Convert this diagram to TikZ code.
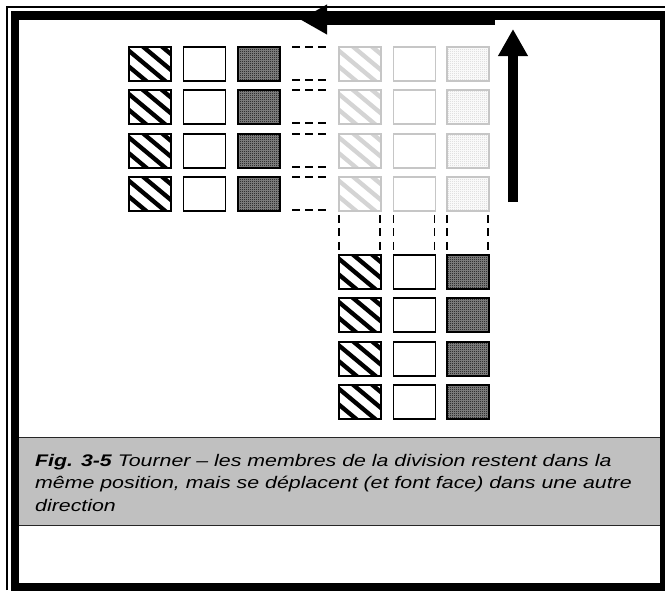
\documentclass[tikz,border=0pt]{standalone}
\usepackage{fontspec}
\setmainfont{Liberation Sans}
\usepackage{graphicx}
\usetikzlibrary{patterns,arrows.meta}
\pgfdeclarepatternformonly{finecheck}{\pgfpointorigin}{\pgfpoint{2pt}{2pt}}{\pgfpoint{2pt}{2pt}}{%
  \pgfpathrectangle{\pgfpointorigin}{\pgfpoint{1pt}{1pt}}%
  \pgfpathrectangle{\pgfpoint{1pt}{1pt}}{\pgfpoint{1pt}{1pt}}%
  \pgfusepath{fill}}
\definecolor{capgray}{HTML}{C0C0C0}
\definecolor{lightedge}{HTML}{C6C6C6}
\definecolor{lightstripe}{HTML}{D4D4D4}
\definecolor{lightcheck}{HTML}{D0D0D0}
\newcommand{\capfont}{\fontsize{16.8pt}{22.5pt}\selectfont\itshape}
\begin{document}
\begin{tikzpicture}[x=1pt,y=-1pt,
  box/.style={draw=#1, line width=1.8pt, minimum width=42pt, minimum height=34pt,
              inner sep=0pt, outer sep=0pt, anchor=north west, fill=white},
  box/.default=black,
  hatchbox/.style={box=#1, path picture={
      \foreach \c in {-95,-76,...,76}
        \draw[line width=4.3pt, #1] ([xshift=\c pt, yshift=12pt]path picture bounding box.north west) -- ++(96,80);}},
  checkbox/.style 2 args={box=#1, fill=#2, path picture={
      \fill[pattern=finecheck, pattern color=#1] (path picture bounding box.south west) rectangle (path picture bounding box.north east);}},
  hdash/.style={line width=1.8pt, dash pattern=on 8pt off 5pt},
  vdash/.style={line width=1.8pt, dash pattern=on 8pt off 5.5pt},
  bigarrow/.style={line width=#1, -{Triangle[length=27pt,width=28pt]}},
  capline/.style={draw=black!85, line width=1.3pt}
]
\useasboundingbox (0,0) rectangle (665,590);

% frame
\draw[line width=1.4pt] (7,590) -- (7,7) -- (665,7);
\draw[line width=8.5pt] (15,15.5) rectangle (664.5,587);

% left (original) group
\foreach \r in {0,1,2,3} {
  \node[hatchbox=black] (La\r) at (129,{47+43.33*\r}) {};
  \node[box] (Lb\r) at (183.5,{47+43.33*\r}) {};
  \node[checkbox={black}{black!45}] (Lc\r) at (238,{47+43.33*\r}) {};
}
% faded group
\foreach \r in {0,1,2,3} {
  \node[hatchbox=lightstripe, draw=lightedge] (Ga\r) at (339,{47+43.33*\r}) {};
  \node[box=lightedge] (Gb\r) at (393.5,{47+43.33*\r}) {};
  \node[checkbox={lightcheck}{white}, draw=lightedge] (Gc\r) at (447,{47+43.33*\r}) {};
}
% new position group
\foreach \r in {0,1,2,3} {
  \node[hatchbox=black] (Ba\r) at (339,{255+43.33*\r}) {};
  \node[box] (Bb\r) at (393.5,{255+43.33*\r}) {};
  \node[checkbox={black}{black!45}] (Bc\r) at (447,{255+43.33*\r}) {};
}

% horizontal dashed guides
\foreach \r in {0,1,2,3} {
  \draw[hdash] ([xshift=12pt]Lc\r.north east) -- ([xshift=-12pt]Ga\r.north west);
  \draw[hdash] ([xshift=12pt, yshift=1pt]Lc\r.south east) -- ([xshift=-12pt, yshift=1pt]Ga\r.south west);
}
% vertical dashed guides
\foreach \c in {a,b,c} {
  \draw[vdash] ([yshift=-4pt]G\c3.south west) -- ([yshift=5pt]B\c0.north west);
  \draw[vdash] ([yshift=-4pt, xshift=-1pt]G\c3.south east) -- ([yshift=5pt, xshift=-1pt]B\c0.north east);
}

% arrows
\coordinate (hA) at (495,19.5);
\coordinate (hB) at (300,19.5);
\draw[bigarrow=11pt] (hA) -- (hB);
\coordinate (vA) at (513,202);
\coordinate (vB) at (513,29);
\draw[bigarrow=10pt] (vA) -- (vB);

% caption
\node[fill=capgray, minimum width=641pt, minimum height=88pt, inner sep=0pt, outer sep=0pt,
      anchor=north west] (capbox) at (19,437.5) {};
\draw[capline] (capbox.north west) -- (capbox.north east);
\draw[capline] (capbox.south west) -- (capbox.south east);
\node[anchor=base west, inner sep=0pt] (t1) at (35,466)
  {\capfont\scalebox{1.27}[1]{\textbf{Fig. 3-5} Tourner – les membres de la division restent dans la}};
\node[anchor=base west, inner sep=0pt] (t2) at (35,488.5)
  {\capfont\scalebox{1.27}[1]{même position, mais se déplacent (et font face) dans une autre}};
\node[anchor=base west, inner sep=0pt] (t3) at (35,511)
  {\capfont\scalebox{1.27}[1]{direction}};
\end{tikzpicture}
\end{document}
